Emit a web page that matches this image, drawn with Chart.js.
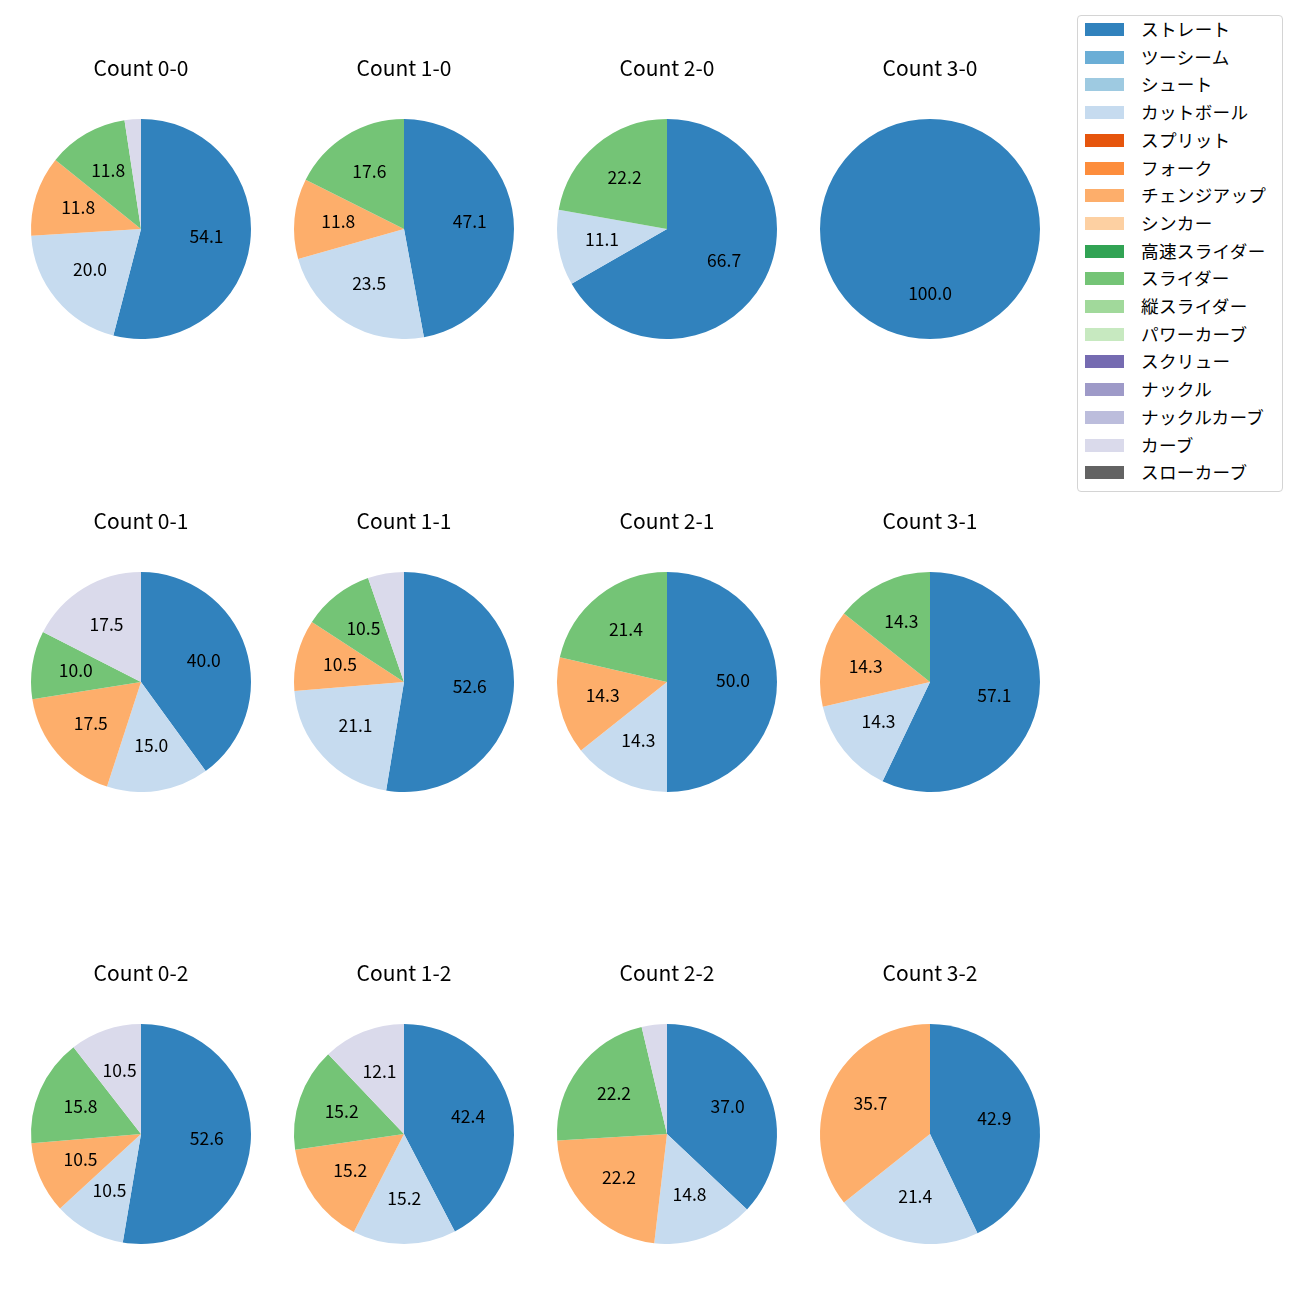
<!DOCTYPE html>
<html>
<head>
<meta charset="utf-8">
<script src="https://cdn.jsdelivr.net/npm/chart.js@4/dist/chart.umd.min.js"></script>
<style>
  body { margin: 0; background: #fff; }
  #wrap { position: relative; width: 1300px; height: 1300px; font-family: "Noto Sans CJK JP", "Noto Sans", sans-serif; }
  .pie { position: absolute; width: 260px; height: 281px; }
  #legend { position: absolute; left: 1077px; top: 15px; width: 206px; height: 477px; border: 1px solid #d4d4d4; border-radius: 4px; box-sizing: border-box; }
  .lg-item { position: absolute; left: 0; height: 20px; }
  .lg-box { position: absolute; left: 7px; top: 0px; width: 39px; height: 13px; }
  .lg-text { position: absolute; left: 63px; top: -7px; font-size: 17.6px; line-height: 26px; white-space: nowrap; color: #000; letter-spacing: 0.3px; }
</style>
</head>
<body>
<div id="wrap"><div id="legend"></div></div>
<script>
// 球種と色
const pitchTypes = ['ストレート', 'ツーシーム', 'シュート', 'カットボール', 'スプリット', 'フォーク',
    'チェンジアップ', 'シンカー', '高速スライダー', 'スライダー', '縦スライダー', 'パワーカーブ',
    'スクリュー', 'ナックル', 'ナックルカーブ', 'カーブ', 'スローカーブ'];
const pitchColors = ['#3182bd', '#6baed6', '#9ecae1', '#c6dbef', '#e6550d', '#fd8d3c',
    '#fdae6b', '#fdd0a2', '#31a354', '#74c476', '#a1d99b', '#c7e9c0',
    '#756bb1', '#9e9ac8', '#bcbddc', '#dadaeb', '#636363'];

// カウント (行ごと)
const counts = ['0-0', '1-0', '2-0', '3-0', '0-1', '1-1', '2-1', '3-1', '0-2', '1-2', '2-2', '3-2'];

// 割合 (%) - counts と同じ順
const straight = [54.1, 47.1, 66.7, 100.0, 40.0, 52.6, 50.0, 57.1, 52.6, 42.4, 37.0, 42.9];
const cutter   = [20.0, 23.5, 11.1, 0, 15.0, 21.1, 14.3, 14.3, 10.5, 15.2, 14.8, 21.4];
const changeup = [11.8, 11.8, 0, 0, 17.5, 10.5, 14.3, 14.3, 10.5, 15.2, 22.2, 35.7];
const slider   = [11.8, 17.6, 22.2, 0, 10.0, 10.5, 21.4, 14.3, 15.8, 15.2, 22.2, 0];
const curve    = [2.4, 0, 0, 0, 17.5, 5.3, 0, 0, 10.5, 12.1, 3.7, 0];

const colCenters = [141, 404, 667, 930];
const rowCenters = [229, 682, 1134];

// パーセント表示 (pctdistance 0.6 相当)
const pctLabels = {
    id: 'pctLabels',
    afterDatasetsDraw(chart) {
        const ctx = chart.ctx;
        const vals = chart.data.datasets[0].data;
        const meta = chart.getDatasetMeta(0);
        ctx.save();
        ctx.font = '17.5px "Noto Sans CJK JP"';
        ctx.fillStyle = '#000';
        ctx.textAlign = 'center';
        ctx.textBaseline = 'middle';
        meta.data.forEach((arc, i) => {
            const v = vals[i];
            if (!v || v < 6) return;
            const p = arc.getProps(['x', 'y', 'startAngle', 'endAngle', 'outerRadius'], true);
            const mid = (p.startAngle + p.endAngle) / 2;
            const r = p.outerRadius * 0.6;
            ctx.fillText(v.toFixed(1), p.x + Math.cos(mid) * r, p.y + Math.sin(mid) * r - 1.5);
        });
        ctx.restore();
    }
};

const wrap = document.getElementById('wrap');

counts.forEach((c, idx) => {
    const cx = colCenters[idx % 4];
    const cy = rowCenters[Math.floor(idx / 4)];
    const div = document.createElement('div');
    div.className = 'pie';
    div.style.left = (cx - 130) + 'px';
    div.style.top = (cy - 171) + 'px';
    const canvas = document.createElement('canvas');
    div.appendChild(canvas);
    wrap.appendChild(div);

    const data = pitchTypes.map(() => 0);
    data[0] = straight[idx];
    data[3] = cutter[idx];
    data[6] = changeup[idx];
    data[9] = slider[idx];
    data[15] = curve[idx];

    new Chart(canvas, {
        type: 'pie',
        data: {
            labels: pitchTypes,
            datasets: [{
                data: data,
                backgroundColor: pitchColors,
                borderWidth: 0,
                hoverOffset: 0
            }]
        },
        options: {
            responsive: true,
            maintainAspectRatio: false,
            animation: false,
            layout: { padding: 0 },
            plugins: {
                legend: { display: false },
                tooltip: { enabled: false },
                title: {
                    display: true,
                    text: 'Count ' + c,
                    color: '#000',
                    font: { family: '"Noto Sans CJK JP"', size: 21, weight: 'normal', lineHeight: 1 },
                    padding: { top: 0, bottom: 40 }
                }
            }
        },
        plugins: [pctLabels]
    });
});

// 凡例
const legend = document.getElementById('legend');
pitchTypes.forEach((name, i) => {
    const item = document.createElement('div');
    item.className = 'lg-item';
    item.style.top = (7 + i * 27.7) + 'px';
    item.innerHTML = `<div class="lg-box" style="background:${pitchColors[i]}"></div><div class="lg-text">${name}</div>`;
    legend.appendChild(item);
});
</script>
</body>
</html>
